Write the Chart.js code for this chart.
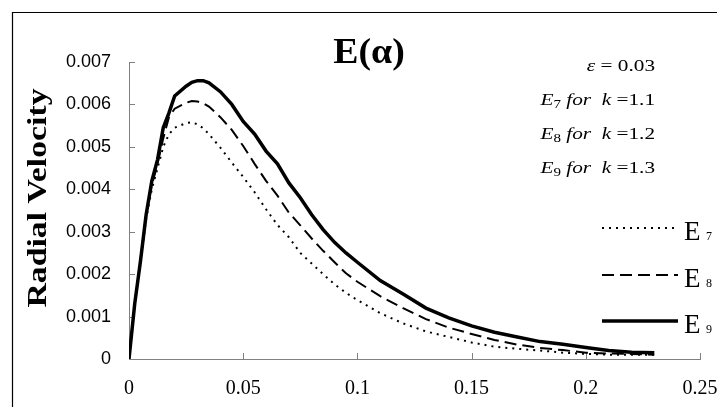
<!DOCTYPE html>
<html>
<head>
<meta charset="utf-8">
<script src="https://cdn.jsdelivr.net/npm/chart.js@4.4.1/dist/chart.umd.min.js"></script>
<style>
  html, body { margin: 0; padding: 0; background: #fff; }
</style>
</head>
<body>
<canvas id="radialChart" width="717" height="407"></canvas>
<script>
// alpha values (x axis) shared by all three series
const alphaValues = [0, 0.0025, 0.005, 0.0075, 0.01, 0.0125, 0.015, 0.0175, 0.02, 0.025, 0.0275, 0.03, 0.0325, 0.035, 0.04, 0.045,
  0.05, 0.055, 0.06, 0.065, 0.07, 0.075, 0.08, 0.085, 0.09, 0.095, 0.1, 0.11, 0.12, 0.13, 0.14, 0.15,
  0.16, 0.17, 0.18, 0.19, 0.2, 0.21, 0.22, 0.23];

const e7Values = [0, 0.0013, 0.0023, 0.0033, 0.0040, 0.0045, 0.0050, 0.0053, 0.00545, 0.00556, 0.00558, 0.00553, 0.00544, 0.0053, 0.00498, 0.00463,
  0.00429, 0.00393, 0.00353, 0.00316, 0.00287, 0.0025, 0.00225, 0.002, 0.00176, 0.00156, 0.00139, 0.00108, 0.00084, 0.00065, 0.00052, 0.00039,
  0.00029, 0.00024, 0.0002, 0.00015, 0.00012, 0.0001, 0.0001, 0.0001];

const e8Values = [0, 0.0013, 0.0023, 0.0034, 0.0041, 0.0046, 0.0052, 0.0057, 0.0059, 0.00604, 0.00608, 0.00607, 0.00603, 0.00595, 0.0057, 0.0054,
  0.00502, 0.0046, 0.0042, 0.00385, 0.00345, 0.00315, 0.00284, 0.00255, 0.00228, 0.00202, 0.00182, 0.00148, 0.0012, 0.00094, 0.00074, 0.00059,
  0.00045, 0.00034, 0.00026, 0.00021, 0.00015, 0.00013, 0.00012, 0.0001];

const e9Values = [0, 0.0013, 0.0023, 0.0034, 0.0042, 0.0047, 0.00545, 0.0058, 0.0062, 0.00643, 0.00652, 0.00656, 0.00656, 0.00651, 0.0063, 0.006,
  0.0056, 0.0053, 0.0049, 0.0046, 0.00415, 0.0038, 0.0034, 0.00305, 0.00275, 0.0025, 0.00228, 0.00185, 0.00153, 0.0012, 0.00097, 0.00078,
  0.00063, 0.00052, 0.00041, 0.00035, 0.00027, 0.0002, 0.00016, 0.00015];

const seriesNames = ['7', '8', '9'];
const xTicks = [0, 0.05, 0.1, 0.15, 0.2, 0.25];
const yTicks = [0, 0.001, 0.002, 0.003, 0.004, 0.005, 0.006, 0.007];
const chartTitle = 'E(\u03b1)';
const yTitle = 'Radial Velocity';
const epsilonText = '0.03';
const kValues = ['1.1', '1.2', '1.3'];

const toPoints = vals => vals.map((v, i) => ({ x: alphaValues[i], y: v }));

// draws frame, inward tick marks, titles, notes and the legend
const decorPlugin = {
  id: 'decor',
  beforeDatasetsDraw(chart) {
    const { ctx, chartArea, scales: { x, y } } = chart;
    ctx.save();
    ctx.strokeStyle = '#808080';
    ctx.lineWidth = 1;
    ctx.beginPath();
    xTicks.forEach(v => {
      const px = Math.round(x.getPixelForValue(v)) + 0.5;
      ctx.moveTo(px, chartArea.bottom);
      ctx.lineTo(px, chartArea.bottom - 6);
    });
    yTicks.forEach(v => {
      const py = Math.round(y.getPixelForValue(v)) + 0.5;
      ctx.moveTo(chartArea.left, py);
      ctx.lineTo(chartArea.left + 6, py);
    });
    ctx.stroke();
    ctx.restore();
  },
  afterDraw(chart) {
    const { ctx } = chart;
    ctx.save();
    // outer frame (runs off right and bottom)
    ctx.strokeStyle = '#000';
    ctx.lineWidth = 1.2;
    ctx.beginPath();
    ctx.moveTo(12.5, 407);
    ctx.lineTo(12.5, 12.5);
    ctx.lineTo(717, 12.5);
    ctx.stroke();

    ctx.fillStyle = '#000';
    ctx.textBaseline = 'alphabetic';

    // title (text in the original is a little stretched)
    ctx.save();
    ctx.translate(369, 63);
    ctx.scale(1.08, 1);
    ctx.font = 'bold 35px "Liberation Serif"';
    ctx.textAlign = 'center';
    ctx.fillText(chartTitle, 0, 0);
    ctx.restore();

    // y axis title
    ctx.save();
    ctx.translate(46, 198);
    ctx.rotate(-Math.PI / 2);
    ctx.scale(1.25, 1);
    ctx.font = 'bold 27px "Liberation Serif"';
    ctx.textAlign = 'center';
    ctx.fillText(yTitle, 0, 0);
    ctx.restore();

    // notes, right aligned
    const it = 'italic 17px "Liberation Serif"';
    const rm = '17px "Liberation Serif"';
    const sub = '12px "Liberation Serif"';
    const stretch = 1.25;
    const drawRun = (parts, right, base) => {
      let w = 0;
      parts.forEach(p => { ctx.font = p.f; w += ctx.measureText(p.t).width; });
      ctx.save();
      ctx.translate(right, base);
      ctx.scale(stretch, 1);
      let cx = -w;
      ctx.textAlign = 'left';
      parts.forEach(p => {
        ctx.font = p.f;
        ctx.fillText(p.t, cx, p.dy || 0);
        cx += ctx.measureText(p.t).width;
      });
      ctx.restore();
    };
    drawRun([{ t: '\u03b5', f: it }, { t: ' = ' + epsilonText, f: rm }], 655, 71);
    seriesNames.forEach((n, i) => {
      drawRun([
        { t: 'E', f: it }, { t: n, f: sub, dy: 3 }, { t: ' for  k', f: it },
        { t: ' =' + kValues[i], f: rm }
      ], 655, 105 + i * 34);
    });

    // legend
    const legendY = [228, 275, 321];
    chart.data.datasets.forEach((ds, i) => {
      ctx.strokeStyle = '#000';
      ctx.lineWidth = ds.borderWidth;
      ctx.setLineDash(ds.borderDash || []);
      ctx.beginPath();
      ctx.moveTo(602, legendY[i]);
      ctx.lineTo(678, legendY[i]);
      ctx.stroke();
      ctx.setLineDash([]);
      ctx.textAlign = 'left';
      ctx.font = '27px "Liberation Serif"';
      ctx.fillText('E', 684, legendY[i] + 12);
      ctx.font = '12px "Liberation Serif"';
      ctx.fillText(seriesNames[i], 706, legendY[i] + 12);
    });
    ctx.restore();
  }
};

new Chart(document.getElementById('radialChart').getContext('2d'), {
  type: 'line',
  data: {
    datasets: [
      { label: 'E7', data: toPoints(e7Values), borderColor: '#000', borderWidth: 2, borderDash: [2, 5], pointRadius: 0, fill: false, tension: 0 },
      { label: 'E8', data: toPoints(e8Values), borderColor: '#000', borderWidth: 2, borderDash: [12, 6], pointRadius: 0, fill: false, tension: 0 },
      { label: 'E9', data: toPoints(e9Values), borderColor: '#000', borderWidth: 3.5, pointRadius: 0, fill: false, tension: 0 }
    ]
  },
  options: {
    responsive: false,
    animation: false,
    layout: { padding: { top: 62, right: 17, left: 0, bottom: 0 } },
    plugins: { legend: { display: false }, tooltip: { enabled: false } },
    scales: {
      x: {
        type: 'linear',
        min: 0,
        max: 0.25,
        afterFit: s => { s.height = 48; s.paddingLeft = 0; s.paddingRight = 0; },
        afterBuildTicks: s => { s.ticks = xTicks.map(v => ({ value: v })); },
        ticks: {
          color: '#000',
          padding: 18,
          maxRotation: 0,
          font: { family: 'Liberation Serif', size: 20 },
          callback: v => String(Number(v.toFixed(2)))
        },
        grid: { display: false, drawTicks: false },
        border: { display: true, color: '#808080', width: 1 }
      },
      y: {
        min: 0,
        max: 0.007,
        afterFit: s => { s.width = 129; },
        afterBuildTicks: s => { s.ticks = yTicks.map(v => ({ value: v })); },
        ticks: {
          color: '#000',
          padding: 18,
          font: { family: 'Liberation Sans', size: 18 },
          callback: v => String(Number(v.toFixed(3)))
        },
        grid: { display: false, drawTicks: false },
        border: { display: true, color: '#808080', width: 1 }
      }
    }
  },
  plugins: [decorPlugin]
});
</script>
</body>
</html>
